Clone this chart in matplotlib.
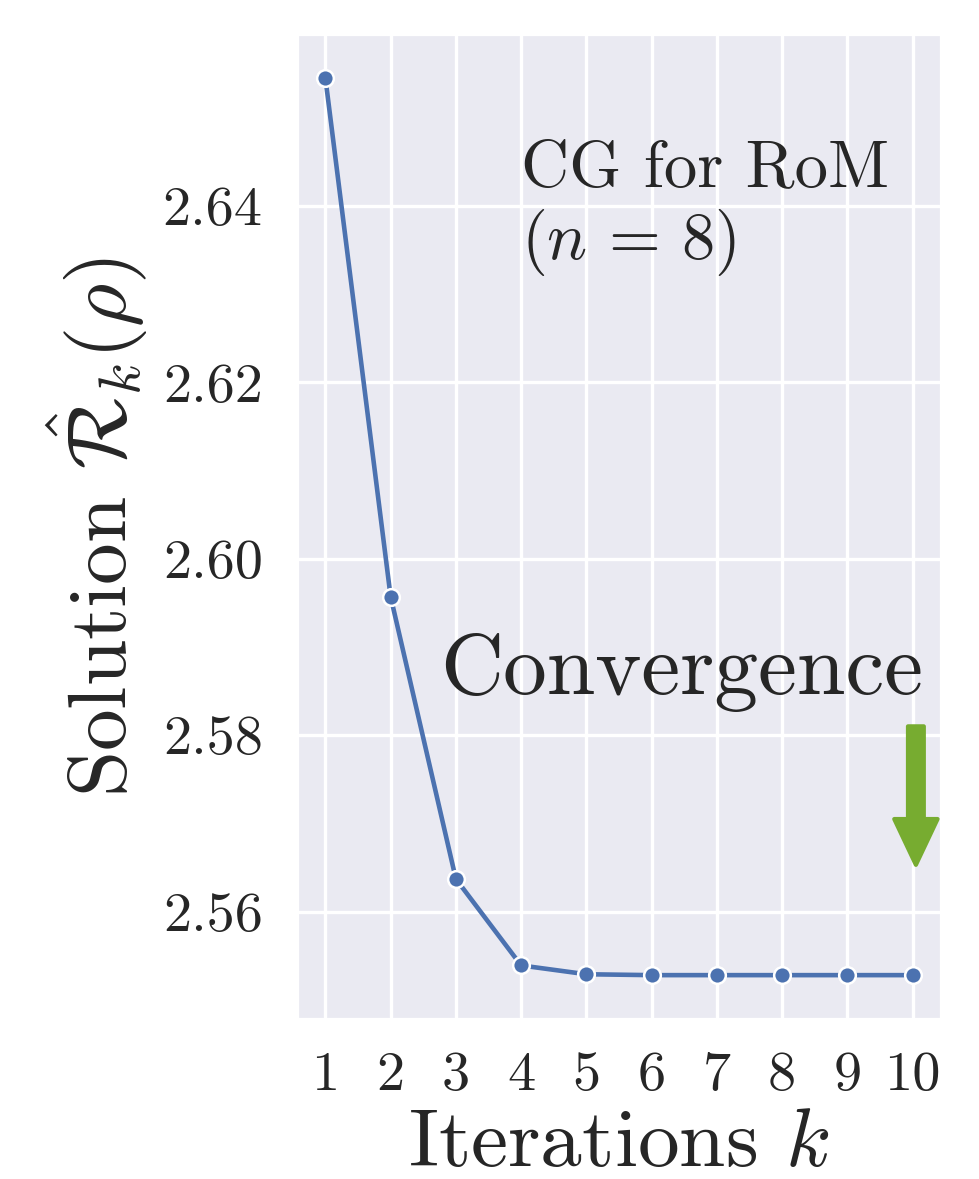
import numpy as np
import matplotlib
matplotlib.use('Agg')
import matplotlib.pyplot as plt
import seaborn as sns

iterations = [1, 2, 3, 4, 5, 6, 7, 8, 9, 10]
solution = [2.6545, 2.5957, 2.5637, 2.5539, 2.5529, 2.5528, 2.5528, 2.5528, 2.5528, 2.5528]
yticks = [2.56, 2.58, 2.60, 2.62, 2.64]
ytick_labels = ['2.56', '2.58', '2.60', '2.62', '2.64']
xtick_labels = [str(i) for i in iterations]

sns.set_theme(style='darkgrid')
plt.rcParams.update({
    'font.family': 'serif',
    'font.serif': ['cmr10'],
    'mathtext.fontset': 'cm',
    'axes.unicode_minus': False,
    'text.color': '#262626',
})

fig, ax = plt.subplots(figsize=(979 / 300, 1179 / 300), dpi=300)
fig.subplots_adjust(left=296 / 979, right=942 / 979, top=1 - 33 / 1179, bottom=1 - 1020 / 1179)

ax.plot(iterations, solution, color='#4C72B0', lw=1.1, marker='o', ms=4,
        mec='white', mew=0.6)

ax.set_xticks(iterations)
ax.set_xticklabels(xtick_labels)
ax.set_yticks(yticks)
ax.set_yticklabels(ytick_labels)
ax.tick_params(axis='both', labelsize=13.5, colors='#262626', length=0)
ax.tick_params(axis='y', pad=8)
ax.tick_params(axis='x', pad=7.5)
ax.grid(True, color='white', lw=0.8)

ax.set_xlabel(r'Iterations $k$', fontsize=20, color='#262626', labelpad=2)
ax.set_ylabel(r'Solution $\hat{\mathcal{R}}_k(\rho)$', fontsize=20, color='#262626', labelpad=3)

ax.text(4.0, 2.6475, 'CG for RoM\n($n\\,=\\,8$)', fontsize=16, va='top', ha='left',
        color='#262626', linespacing=1.15)
ax.text(2.76, 2.5847, 'Convergence', fontsize=21, va='baseline', ha='left', color='#262626')

ax.annotate('', xy=(10.05, 2.5653), xytext=(10.05, 2.581),
            arrowprops=dict(arrowstyle='simple,head_width=0.52,head_length=0.55,tail_width=0.19',
                            color='#77AC30', shrinkA=0, shrinkB=0, mutation_scale=20))

fig.savefig('out.png', dpi=300)
